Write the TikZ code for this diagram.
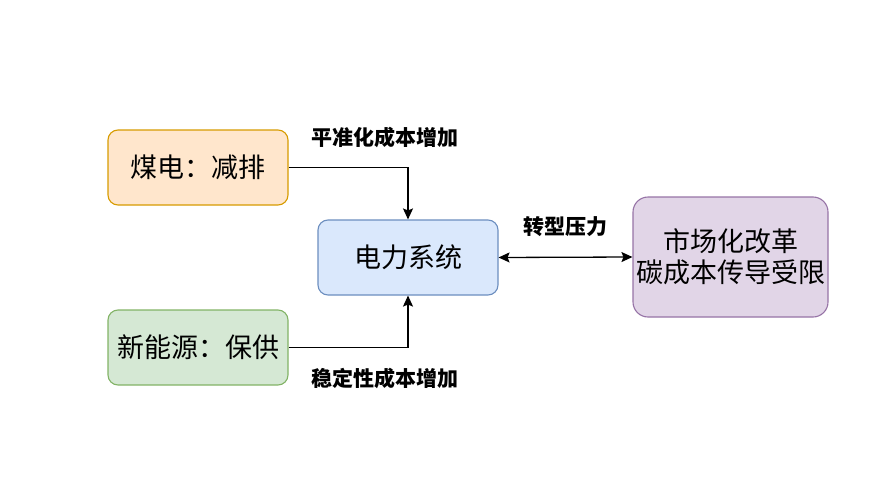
\documentclass[tikz,border=0pt]{standalone}
\usepackage{fontspec}
\setmainfont{Noto Sans CJK SC}
\usetikzlibrary{arrows.meta}
\definecolor{orfill}{HTML}{FFE6CC}\definecolor{ordraw}{HTML}{D79B00}
\definecolor{grfill}{HTML}{D5E8D4}\definecolor{grdraw}{HTML}{82B366}
\definecolor{blfill}{HTML}{DAE8FC}\definecolor{bldraw}{HTML}{6C8EBF}
\definecolor{pufill}{HTML}{E1D5E7}\definecolor{pudraw}{HTML}{9673A6}
\begin{document}
\begin{tikzpicture}[x=1pt,y=-1pt,
  box/.style={draw, line width=1.1pt, rounded corners=10pt, minimum width=180pt, minimum height=75pt, inner sep=0pt, font=\fontsize{27}{32}\selectfont, align=center},
  lbl/.style={font=\fontsize{21}{26}\selectfont\bfseries, inner sep=0pt},
  conn/.style={line width=1.3pt, -{Stealth[length=11pt,width=10pt,inset=2pt]}}]
\useasboundingbox (0,0) rectangle (880,495);
\node[box, fill=orfill, draw=ordraw] (coal) at (198,167.5) {煤电：减排};
\node[box, fill=grfill, draw=grdraw] (newe) at (198,347.5) {新能源：保供};
\node[box, fill=blfill, draw=bldraw] (pwr) at (408,257.5) {电力系统};
\node[box, fill=pufill, draw=pudraw, minimum width=195pt, minimum height=120pt, rounded corners=15pt, font=\fontsize{27}{31}\selectfont] (mkt) at (730.5,257) {市场化改革\\碳成本传导受限};
\draw[conn] (coal.east) -| (pwr.north);
\draw[conn] (newe.east) -| (pwr.south);
\draw[line width=1.3pt, {Stealth[length=11pt,width=10pt,inset=2pt]}-{Stealth[length=11pt,width=10pt,inset=2pt]}] (pwr.east) -- (mkt.west);
\node[lbl] (l1) at (385,137) {平准化成本增加};
\node[lbl] (l2) at (385,378) {稳定性成本增加};
\node[lbl] (l3) at (565,227) {转型压力};
\end{tikzpicture}
\end{document}
